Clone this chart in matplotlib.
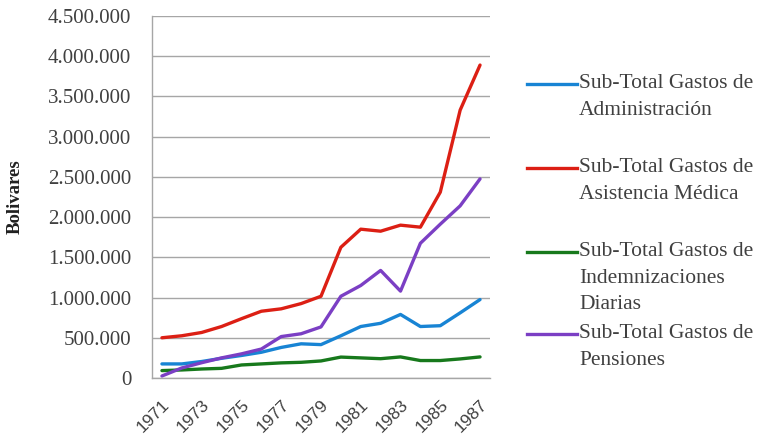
import matplotlib
matplotlib.use("Agg")
import matplotlib.pyplot as plt
from matplotlib.lines import Line2D
from matplotlib.ticker import FuncFormatter, MultipleLocator

years = list(range(1971, 1988))

administracion = [175000, 175000, 205000, 245000, 280000, 320000, 380000, 425000,
                  415000, 525000, 640000, 680000, 790000, 640000, 650000, 810000, 975000]
asistencia_medica = [500000, 525000, 566000, 640000, 737000, 830000, 860000, 925000,
                     1016000, 1625000, 1850000, 1825000, 1900000, 1875000, 2310000,
                     3330000, 3890000]
indemnizaciones = [92000, 100000, 112000, 120000, 162000, 175000, 188000, 195000,
                   212000, 260000, 250000, 240000, 262000, 217000, 217000, 237000, 262000]
pensiones = [25000, 125000, 190000, 250000, 300000, 360000, 515000, 550000,
             635000, 1016000, 1150000, 1337000, 1080000, 1675000, 1912000, 2140000,
             2475000]

series_labels = [
    "Sub-Total Gastos de\nAdministración",
    "Sub-Total Gastos de\nAsistencia Médica",
    "Sub-Total Gastos de\nIndemnizaciones\nDiarias",
    "Sub-Total Gastos de\nPensiones",
]
series_colors = ["#1884d4", "#dc1f14", "#17791c", "#7b3fc4"]

W, H = 760, 442
fig = plt.figure(figsize=(W / 100, H / 100), dpi=100)
ax = fig.add_axes([0.2, 0.1448, 0.4447, 0.819])

positions = list(range(len(years)))
all_series = [administracion, asistencia_medica, indemnizaciones, pensiones]
for values, label, color in zip(all_series, series_labels, series_colors):
    ax.plot(positions, values, color=color, linewidth=2.4, label=label,
            solid_joinstyle="round", solid_capstyle="round")

ax.set_xlim(-0.5, len(years) - 0.5)
ax.set_ylim(0, 4500000)
ax.yaxis.set_major_locator(MultipleLocator(500000))
ax.yaxis.set_major_formatter(FuncFormatter(lambda v, _: f"{int(v):,}".replace(",", ".")))

tick_pos = positions[::2]
ax.set_xticks(tick_pos)
ax.set_xticklabels([str(years[i]) for i in tick_pos], rotation=45,
                   ha="right", va="top", rotation_mode="anchor",
                   fontfamily="Liberation Sans", fontsize=12.5, color="#404040")
for lbl in ax.get_yticklabels():
    lbl.set_fontfamily("Liberation Serif")
    lbl.set_fontsize(15)
    lbl.set_color("#404040")

ax.tick_params(axis="both", length=0)
ax.tick_params(axis="y", pad=15)
ax.tick_params(axis="x", pad=14)

ax.grid(axis="y", color="#a6a6a6", linewidth=1.0)
ax.set_axisbelow(True)
for side in ("top", "right"):
    ax.spines[side].set_visible(False)
for side in ("left", "bottom"):
    ax.spines[side].set_color("#a6a6a6")
    ax.spines[side].set_linewidth(1.0)

fig.text(0.02, 0.556, "Bolivares", rotation=90, ha="center", va="center",
         fontfamily="Liberation Serif", fontweight="bold", fontsize=13.5,
         color="#202020")

# Legend: key line level with the first line of each label
entry_rows = [84, 168, 252, 334]
for row, label, color in zip(entry_rows, series_labels, series_colors):
    yf = 1 - row / H
    fig.add_artist(Line2D([527 / W, 577 / W], [yf, yf], color=color,
                          linewidth=2.4, transform=fig.transFigure))
    fig.text(579 / W, 1 - (row - 10) / H, label, ha="left", va="top",
             fontfamily="Liberation Serif", fontsize=15.5, color="#404040",
             linespacing=1.55)

fig.savefig("out.png", dpi=100, facecolor="white")
